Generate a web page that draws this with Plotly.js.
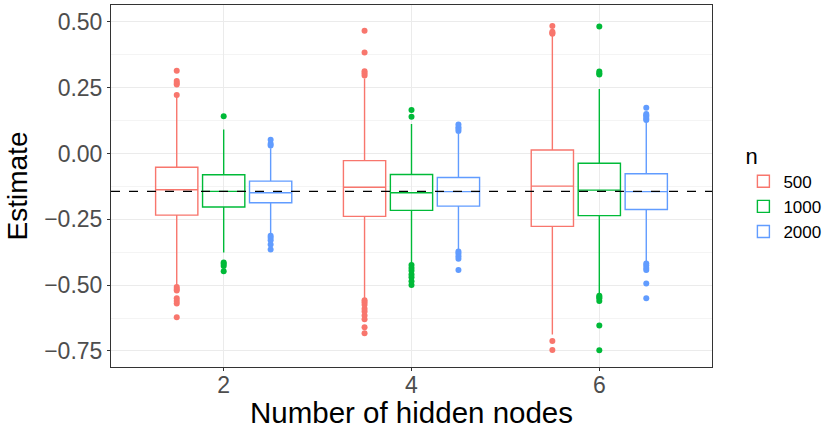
<!DOCTYPE html>
<html>
<head>
<meta charset="utf-8">
<script src="https://cdn.plot.ly/plotly-3.0.1.min.js"></script>
<style>html,body{margin:0;padding:0;background:#fff;}#chart{width:826px;height:429px;}</style>
</head>
<body>
<div id="chart"></div>
<script>
// Categories (number of hidden nodes)
const categories = ['2', '4', '6'];
const seriesNames = ['500', '1000', '2000'];
const trueValue = -0.144;

// n = 500
const q1_500 = [-0.234, -0.239, -0.277];
const med_500 = [-0.138, -0.128, -0.124];
const q3_500 = [-0.052, -0.027, 0.013];
const lo_500 = [-0.503, -0.552, -0.688];
const hi_500 = [0.215, 0.285, 0.452];
const out_500 = [
  [0.314, 0.275, 0.268, 0.262, 0.222, -0.507, -0.515, -0.52, -0.55, -0.56, -0.57, -0.622],
  [0.466, 0.384, 0.312, 0.305, 0.296, -0.557, -0.565, -0.575, -0.59, -0.6, -0.615, -0.63, -0.66, -0.683],
  [0.484, 0.462, 0.458, 0.455, -0.712, -0.746]
];

// n = 1000
const q1_1000 = [-0.203, -0.216, -0.236];
const med_1000 = [-0.144, -0.149, -0.139];
const q3_1000 = [-0.081, -0.080, -0.037];
const lo_1000 = [-0.376, -0.418, -0.535];
const hi_1000 = [0.091, 0.112, 0.245];
const out_1000 = [
  [0.141, -0.414, -0.42, -0.427, -0.447],
  [0.165, 0.14, -0.424, -0.435, -0.445, -0.46, -0.47, -0.485, -0.5],
  [0.482, 0.311, 0.305, 0.3, -0.54, -0.545, -0.55, -0.56, -0.653, -0.747]
];

// n = 2000
const q1_2000 = [-0.187, -0.200, -0.213];
const med_2000 = [-0.149, -0.145, -0.145];
const q3_2000 = [-0.105, -0.091, -0.077];
const lo_2000 = [-0.305, -0.365, -0.41];
const hi_2000 = [0.02, 0.075, 0.12];
const out_2000 = [
  [0.052, 0.037, 0.03, -0.312, -0.32, -0.33, -0.346, -0.365],
  [0.11, 0.1, 0.093, 0.085, -0.372, -0.38, -0.39, -0.4, -0.443],
  [0.174, 0.15, 0.145, 0.14, 0.132, 0.127, -0.418, -0.425, -0.435, -0.443, -0.494, -0.55]
];

const colors = ['#F8766D', '#00BA38', '#619CFF'];

const stats = [
  [q1_500, med_500, q3_500, lo_500, hi_500, out_500],
  [q1_1000, med_1000, q3_1000, lo_1000, hi_1000, out_1000],
  [q1_2000, med_2000, q3_2000, lo_2000, hi_2000, out_2000]
];

const traces = stats.map((s, i) => ({
  type: 'box',
  name: seriesNames[i],
  x: categories,
  y: s[5],
  q1: s[0], median: s[1], q3: s[2], lowerfence: s[3], upperfence: s[4],
  boxpoints: 'outliers',
  jitter: 0,
  pointpos: 0,
  whiskerwidth: 0,
  fillcolor: 'rgba(255,255,255,0)',
  line: {color: colors[i], width: 1.4},
  marker: {color: colors[i], size: 6, line: {width: 0}},
  hoverinfo: 'skip'
}));

const layout = {
  width: 826, height: 429,
  margin: {l: 111, r: 114, t: 5, b: 62, autoexpand: false},
  paper_bgcolor: '#ffffff', plot_bgcolor: '#ffffff',
  font: {family: 'Liberation Sans, Arial, sans-serif', color: '#000'},
  boxmode: 'group',
  boxgap: 0.25,
  boxgroupgap: 0.1,
  showlegend: true,
  legend: {
    xref: 'container', yref: 'container',
    x: 0.9, xanchor: 'left', y: 0.685, yanchor: 'top',
    title: {text: 'n', font: {size: 22, color: '#000'}},
    font: {size: 17, color: '#000'},
    tracegroupgap: 0, itemwidth: 30
  },
  xaxis: {
    type: 'category',
    range: [-0.6, 2.6],
    showgrid: true, gridcolor: '#EBEBEB', gridwidth: 1,
    ticks: 'outside', ticklen: 3, tickcolor: '#333333', tickwidth: 1,
    tickfont: {size: 23, color: '#4D4D4D'},
    ticklabelstandoff: -6,
    showline: true, linecolor: '#333333', linewidth: 1, mirror: true,
    zeroline: false,
    title: {text: 'Number of hidden nodes', font: {size: 29.5, color: '#000'}, standoff: 2}
  },
  yaxis: {
    range: [-0.811, 0.564],
    tick0: 0, dtick: 0.25, tickformat: '.2f',
    showgrid: true, gridcolor: '#EBEBEB', gridwidth: 1,
    minor: {tick0: 0.125, dtick: 0.25, showgrid: true, gridcolor: '#F4F4F4', gridwidth: 1},
    ticks: 'outside', ticklen: 3, tickcolor: '#333333', tickwidth: 1,
    tickfont: {size: 23, color: '#4D4D4D'},
    showline: true, linecolor: '#333333', linewidth: 1, mirror: true,
    zeroline: false,
    title: {text: 'Estimate', font: {size: 28, color: '#000'}, standoff: 8}
  },
  shapes: [{
    type: 'line', xref: 'paper', x0: 0, x1: 1, yref: 'y', y0: trueValue, y1: trueValue,
    line: {color: '#000', width: 1.3, dash: 'dash'}, layer: 'above'
  }]
};

Plotly.newPlot('chart', traces, layout, {displayModeBar: false, staticPlot: true});
</script>
</body>
</html>
